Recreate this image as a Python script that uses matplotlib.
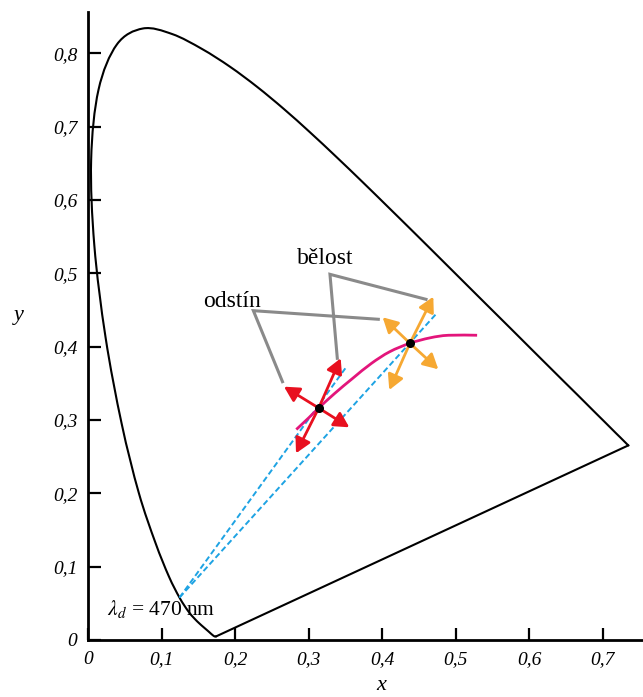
#!/usr/bin/env python
# -*- coding: utf-8 -*-

# CIE 1931 xy chromaticity diagram: hue (odstín) and whiteness (bělost) directions
import matplotlib
matplotlib.use('Agg')
import matplotlib.pyplot as plt
import matplotlib.ticker as mticker
from matplotlib.path import Path
from matplotlib.patches import PathPatch

plt.rcParams['font.family'] = ['Liberation Serif', 'DejaVu Serif']
plt.rcParams['mathtext.fontset'] = 'stix'

# spectral locus, 380..700 nm in 5 nm steps
locus_x = [0.1741, 0.1740, 0.1738, 0.1736, 0.1733, 0.1730, 0.1726, 0.1721, 0.1714, 0.1703,
           0.1689, 0.1669, 0.1644, 0.1611, 0.1566, 0.1510, 0.1440, 0.1355, 0.1241, 0.1096,
           0.0913, 0.0687, 0.0454, 0.0235, 0.0082, 0.0039, 0.0139, 0.0389, 0.0743, 0.1142,
           0.1547, 0.1929, 0.2296, 0.2658, 0.3016, 0.3373, 0.3731, 0.4087, 0.4441, 0.4788,
           0.5125, 0.5448, 0.5752, 0.6029, 0.6270, 0.6482, 0.6658, 0.6801, 0.6915, 0.7006,
           0.7079, 0.7140, 0.7190, 0.7230, 0.7260, 0.7283, 0.7300, 0.7311, 0.7320, 0.7327,
           0.7334, 0.7340, 0.7344, 0.7346, 0.7347]
locus_y = [0.0050, 0.0050, 0.0049, 0.0049, 0.0048, 0.0048, 0.0048, 0.0048, 0.0051, 0.0058,
           0.0069, 0.0086, 0.0109, 0.0138, 0.0177, 0.0227, 0.0297, 0.0399, 0.0578, 0.0868,
           0.1327, 0.2007, 0.2950, 0.4127, 0.5384, 0.6548, 0.7502, 0.8120, 0.8338, 0.8262,
           0.8059, 0.7816, 0.7543, 0.7243, 0.6923, 0.6589, 0.6245, 0.5896, 0.5547, 0.5202,
           0.4866, 0.4544, 0.4242, 0.3965, 0.3725, 0.3514, 0.3340, 0.3197, 0.3083, 0.2993,
           0.2920, 0.2859, 0.2809, 0.2770, 0.2740, 0.2717, 0.2700, 0.2689, 0.2680, 0.2673,
           0.2666, 0.2660, 0.2656, 0.2654, 0.2653]

# dominant wavelength 470 nm
dom_pt = (0.1241, 0.0578)

# black body curve
planck_x = [0.283, 0.300, 0.3135, 0.335, 0.360, 0.385, 0.410, 0.4376, 0.465, 0.490, 0.529]
planck_y = [0.287, 0.303, 0.3163, 0.336, 0.357, 0.377, 0.393, 0.4046, 0.412, 0.4155, 0.4155]

# the two sample colours
red_pt = (0.3135, 0.3163)
orange_pt = (0.4376, 0.4046)
red_tips = [(0.3434, 0.3841), (0.2826, 0.2546), (0.2663, 0.3454), (0.3551, 0.2900)]
orange_tips = [(0.4694, 0.4681), (0.4095, 0.3409), (0.4005, 0.4400), (0.4762, 0.3691)]

# ends of the dashed lines from the 470 nm point
dash_ends = [(0.3497, 0.3704), (0.4740, 0.4454)]

# leader lines for labels
odstin_line_x = [0.3946, 0.2246, 0.2642]
odstin_line_y = [0.4373, 0.4490, 0.3522]
belost_line_x = [0.4595, 0.3288, 0.3388]
belost_line_y = [0.4645, 0.4986, 0.3841]

xticks = [0, 0.1, 0.2, 0.3, 0.4, 0.5, 0.6, 0.7]
yticks = [0, 0.1, 0.2, 0.3, 0.4, 0.5, 0.6, 0.7, 0.8]


def smooth_path(xs, ys):
    # Catmull-Rom through the points, drawn as cubic bezier segments
    pts = list(zip(xs, ys))
    n = len(pts)
    verts = [pts[0]]
    codes = [Path.MOVETO]
    for i in range(n - 1):
        p0 = pts[max(i - 1, 0)]
        p1 = pts[i]
        p2 = pts[i + 1]
        p3 = pts[min(i + 2, n - 1)]
        c1 = (p1[0] + (p2[0] - p0[0]) / 6.0, p1[1] + (p2[1] - p0[1]) / 6.0)
        c2 = (p2[0] - (p3[0] - p1[0]) / 6.0, p2[1] - (p3[1] - p1[1]) / 6.0)
        verts += [c1, c2, p2]
        codes += [Path.CURVE4] * 3
    return Path(verts, codes)


fig = plt.figure(figsize=(6.43, 6.97), dpi=100)
ax = fig.add_axes([0.1373, 0.0818, 0.8627, 0.901])
ax.set_xlim(0, 0.7547)
ax.set_ylim(0, 0.8563)

# spectral locus and the purple line
ax.add_patch(PathPatch(smooth_path(locus_x, locus_y), fill=False, ec='black', lw=1.5,
                       zorder=2, capstyle='round'))
ax.plot([locus_x[-1], locus_x[0]], [locus_y[-1], locus_y[0]], color='black', lw=1.5, zorder=2)

for ex, ey in dash_ends:
    ax.plot([dom_pt[0], ex], [dom_pt[1], ey], color='#1ea3e3', lw=1.4,
            dashes=(3, 1.6), zorder=3)

ax.add_patch(PathPatch(smooth_path(planck_x, planck_y), fill=False, ec='#e3157b', lw=2.0,
                       zorder=4))

for tips, pt, col in [(red_tips, red_pt, '#e8101f'), (orange_tips, orange_pt, '#f6a832')]:
    for tip in tips:
        ax.annotate('', xy=tip, xytext=pt,
                    arrowprops=dict(arrowstyle='-|>,head_length=0.5,head_width=0.27',
                                    mutation_scale=18, lw=2.0,
                                    color=col, shrinkA=0, shrinkB=0),
                    zorder=5)

ax.plot([red_pt[0], orange_pt[0]], [red_pt[1], orange_pt[1]], 'o', color='black',
        ms=5.5, zorder=6)

ax.plot(odstin_line_x, odstin_line_y, color='#8a8a8a', lw=2.2, zorder=3,
        solid_joinstyle='miter')
ax.plot(belost_line_x, belost_line_y, color='#8a8a8a', lw=2.2, zorder=3,
        solid_joinstyle='miter')

ax.text(0.1955, 0.4535, 'odstín', fontsize=17, ha='center', va='baseline')
ax.text(0.3230, 0.5125, 'bělost', fontsize=17, ha='center', va='baseline')
ax.text(0.025, 0.034, r'$\lambda_d$ = 470 nm', fontsize=15.5, ha='left', va='baseline')

# axes styling
for side in ['top', 'right']:
    ax.spines[side].set_visible(False)
for side in ['left', 'bottom']:
    ax.spines[side].set_linewidth(2.0)


def fmt(v, pos):
    if abs(v) < 1e-9:
        return '0'
    return ('%.1f' % v).replace('.', ',')


ax.set_xticks(xticks)
ax.set_yticks(yticks)
ax.xaxis.set_major_formatter(mticker.FuncFormatter(fmt))
ax.yaxis.set_major_formatter(mticker.FuncFormatter(fmt))
ax.tick_params(direction='in', length=9, width=1.6, labelsize=14, pad=8)
for lab in ax.get_xticklabels() + ax.get_yticklabels():
    lab.set_fontstyle('italic')

fig.text(0.030, 0.547, 'y', fontsize=16, style='italic', ha='center', va='center')
fig.text(0.593, 0.016, 'x', fontsize=16, style='italic', ha='center', va='center')

fig.savefig('out.png', dpi=100)
